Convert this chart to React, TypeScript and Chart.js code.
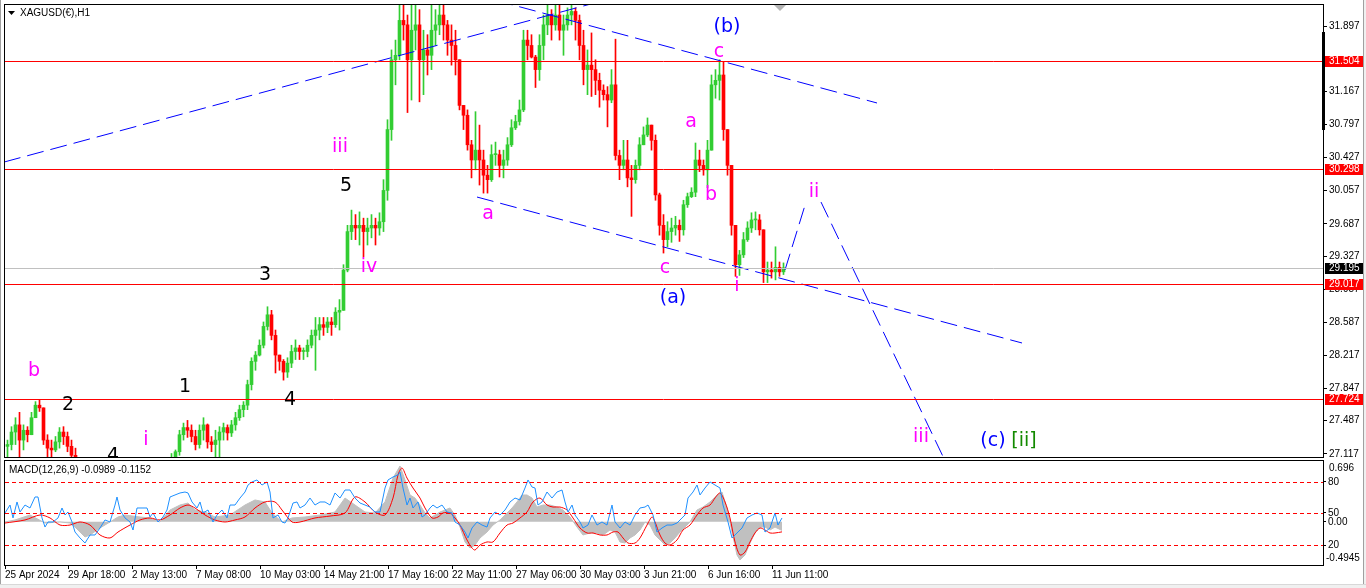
import React, { useEffect, useRef } from "react";
import { Chart, registerables } from "chart.js";
Chart.register(...registerables);

const GREEN = "#32cd32";
const RED = "#ff0000";
const MAGENTA = "#ff00ff";
const BLUE = "#0000ff";
const BLACK = "#000000";
const DKGREEN = "#138a00";
const FONT = "'Liberation Sans', Arial, sans-serif";
const LABEL_FONT = "'DejaVu Sans', Verdana, sans-serif";

// ---------- time axis (1 unit = 1 hourly bar) ----------
const X_MIN = -1;
const X_MAX = 1317;
const HOURS_PER_CANDLE = 4;
const timeTickBars = [-1, 62, 126, 190, 254, 318, 382, 446, 510, 574, 638, 702, 766];
const timeTickLabels = [
  "25 Apr 2024", "29 Apr 18:00", "2 May 13:00", "7 May 08:00", "10 May 03:00", "14 May 21:00",
  "17 May 16:00", "22 May 11:00", "27 May 06:00", "30 May 03:00", "3 Jun 21:00", "6 Jun 16:00", "11 Jun 11:00",
];

// ---------- price data (4-hour candles) ----------
const FIRST_OPEN = 27.2;
const closes = [
  27.22, 27.36, 27.44, 27.27, 27.38, 27.33, 27.52, 27.66, 27.63, 27.27,
  27.18, 27.16, 27.25, 27.36, 27.31, 27.20, 27.10, 27.03, 26.98, 26.95,
  26.92, 26.96, 26.99, 26.94, 26.90, 26.88, 26.92, 26.95, 26.91, 26.87,
  26.85, 26.89, 26.93, 26.97, 26.95, 26.99, 27.02, 26.98, 27.00, 27.03,
  27.01, 27.04, 27.14, 27.33, 27.41, 27.38, 27.31, 27.22, 27.38, 27.44,
  27.25, 27.22, 27.27, 27.36, 27.41, 27.35, 27.44, 27.52, 27.61, 27.66,
  27.89, 28.15, 28.22, 28.33, 28.54, 28.67, 28.44, 28.22, 28.15, 28.03,
  28.13, 28.26, 28.30, 28.26, 28.26, 28.33, 28.44, 28.50, 28.56, 28.53,
  28.59, 28.56, 28.70, 28.72, 29.17, 29.60, 29.67, 29.64, 29.67, 29.60,
  29.64, 29.67, 29.64, 29.71, 30.06, 30.74, 31.52, 31.57, 31.96, 31.91,
  31.52, 31.85, 31.91, 31.52, 31.63, 31.57, 31.85, 31.91, 32.02, 31.91,
  31.74, 31.68, 31.52, 31.01, 30.90, 30.57, 30.40, 30.51, 30.40, 30.23,
  30.18, 30.46, 30.46, 30.34, 30.40, 30.57, 30.76, 30.83, 30.96, 31.74,
  31.68, 31.55, 31.41, 31.68, 31.91, 32.02, 31.91, 32.02, 31.85, 31.91,
  32.02, 32.06, 31.96, 31.68, 31.41, 31.46, 31.41, 31.29, 31.18, 31.13,
  31.07, 31.24, 30.45, 30.34, 30.40, 30.20, 30.18, 30.34, 30.57, 30.68,
  30.79, 30.62, 30.01, 29.67, 29.51, 29.60, 29.64, 29.67, 29.62, 29.90,
  29.99, 30.04, 30.40, 30.34, 30.29, 30.51, 31.24, 31.29, 31.35, 30.74,
  30.34, 29.67, 29.23, 29.34, 29.51, 29.64, 29.73, 29.73, 29.62, 29.15,
  29.17, 29.15, 29.20, 29.15, 29.195,
];
const highs = [
  27.27, 27.42, 27.52, 27.58, 27.44, 27.42, 27.58, 27.70, 27.72, 27.63,
  27.33, 27.27, 27.31, 27.41, 27.42, 27.36, 27.27, 27.18, 27.03, 27.02,
  26.99, 27.01, 27.04, 27.01, 26.96, 26.94, 26.97, 27.00, 26.98, 26.93,
  26.91, 26.94, 26.98, 27.02, 27.01, 27.04, 27.06, 27.05, 27.05, 27.07,
  27.06, 27.12, 27.16, 27.38, 27.46, 27.49, 27.44, 27.38, 27.44, 27.52,
  27.45, 27.31, 27.38, 27.42, 27.46, 27.44, 27.49, 27.58, 27.66, 27.70,
  27.94, 28.19, 28.26, 28.39, 28.59, 28.76, 28.72, 28.50, 28.22, 28.17,
  28.19, 28.33, 28.39, 28.33, 28.30, 28.39, 28.50, 28.64, 28.64, 28.64,
  28.64, 28.64, 28.75, 28.84, 29.23, 29.67, 29.84, 29.79, 29.82, 29.75,
  29.75, 29.79, 29.75, 29.81, 30.18, 30.85, 31.63, 31.74, 32.18, 32.18,
  32.02, 32.18, 32.18, 32.08, 31.85, 31.80, 32.18, 32.08, 32.18, 32.18,
  31.96, 31.91, 31.85, 31.52, 31.01, 30.96, 30.62, 30.94, 30.79, 30.51,
  30.34, 30.57, 30.60, 30.51, 30.51, 30.65, 30.85, 30.90, 31.07, 31.85,
  31.85, 31.80, 31.57, 31.80, 32.02, 32.18, 32.08, 32.18, 32.18, 32.02,
  32.10, 32.18, 32.10, 32.02, 31.85, 31.63, 31.82, 31.52, 31.37, 31.24,
  31.22, 31.41, 31.75, 30.51, 30.62, 30.62, 30.34, 30.40, 30.65, 30.77,
  30.87, 30.79, 30.68, 30.03, 29.79, 29.71, 29.75, 29.77, 29.73, 29.95,
  30.03, 30.09, 30.59, 30.51, 30.40, 30.62, 31.35, 31.41, 31.52, 31.50,
  30.74, 30.34, 29.67, 29.39, 29.59, 29.71, 29.81, 29.82, 29.79, 29.62,
  29.26, 29.26, 29.43, 29.26, 29.25,
];
const lows = [
  27.08, 27.16, 27.22, 27.08, 27.16, 27.25, 27.33, 27.52, 27.59, 27.22,
  27.08, 27.08, 27.14, 27.18, 27.22, 27.14, 27.05, 26.99, 26.93, 26.90,
  26.87, 26.90, 26.93, 26.88, 26.85, 26.82, 26.85, 26.89, 26.85, 26.81,
  26.79, 26.83, 26.87, 26.91, 26.90, 26.93, 26.96, 26.93, 26.95, 26.97,
  26.96, 26.98, 27.03, 27.10, 27.27, 27.30, 27.25, 27.16, 27.18, 27.27,
  27.18, 27.14, 27.05, 27.08, 27.27, 27.27, 27.31, 27.38, 27.49, 27.53,
  27.61, 27.83, 28.05, 28.21, 28.30, 28.50, 28.39, 28.02, 28.05, 27.94,
  27.97, 28.08, 28.17, 28.17, 28.17, 28.20, 28.30, 28.05, 28.39, 28.44,
  28.47, 28.44, 28.53, 28.50, 28.72, 29.15, 29.51, 29.51, 29.45, 29.32,
  29.45, 29.53, 29.45, 29.56, 29.60, 29.95, 30.62, 31.24, 31.52, 31.74,
  30.93, 31.07, 31.63, 31.05, 31.13, 31.35, 31.41, 31.68, 31.80, 31.74,
  31.57, 31.46, 31.35, 30.96, 30.74, 30.51, 30.20, 30.29, 30.12, 30.03,
  30.03, 30.16, 30.34, 30.21, 30.20, 30.34, 30.55, 30.74, 30.79, 30.94,
  31.52, 31.54, 31.21, 31.29, 31.52, 31.80, 31.74, 31.85, 31.74, 31.57,
  31.85, 31.91, 31.74, 31.52, 31.24, 31.13, 31.11, 31.13, 30.99, 31.07,
  30.77, 31.04, 30.40, 30.18, 30.29, 30.10, 29.77, 30.14, 30.29, 30.57,
  30.66, 30.51, 29.95, 29.56, 29.36, 29.43, 29.48, 29.56, 29.49, 29.56,
  29.87, 29.98, 29.99, 30.27, 30.23, 30.09, 30.51, 31.09, 31.07, 30.62,
  30.23, 29.56, 29.10, 29.11, 29.31, 29.49, 29.59, 29.62, 29.56, 29.03,
  29.03, 29.08, 29.06, 29.10, 29.12,
];

// ---------- price axis ----------
const PRICE_MIN = 27.081;
const PRICE_MAX = 32.132;
const priceTicks = [31.897, 31.167, 30.797, 30.427, 30.057, 29.687, 29.327, 28.957, 28.587, 28.217, 27.847, 27.487, 27.117];
const levelPrices = [31.504, 30.298, 29.017, 27.724];
const bidPrice = 29.195;

// ---------- trend lines (bar, price) ----------
const trendLineBars = [[-2, 600], [490, 871], [471, 1016], [779, 800], [815, 954]];
const trendLinePrices = [[30.377, 32.189], [32.183, 31.037], [29.986, 28.355], [29.171, 29.93], [29.93, 26.69]];

// ---------- wave labels ----------
const waveTexts = ["b", "2", "1", "4", "i", "3", "4", "iii", "5", "iv", "a", "(b)", "c", "a", "b", "c", "(a)", "i", "ii", "iii", "(c)", "[ii]"];
const waveBars = [28, 62, 179, 107, 140, 259, 284, 334, 340, 363, 482, 721, 713, 685, 705, 659, 667, 731, 808, 915, 987, 1018];
const wavePrices = [28.042, 27.662, 27.864, 27.09, 27.271, 29.115, 27.718, 30.545, 30.109, 29.204, 29.796, 31.886, 31.607, 30.824, 30.009, 29.193, 28.858, 28.992, 30.042, 27.305, 27.26, 27.26];
const waveColors = [MAGENTA, BLACK, BLACK, BLACK, MAGENTA, BLACK, BLACK, MAGENTA, BLACK, MAGENTA, MAGENTA, BLUE, MAGENTA, MAGENTA, MAGENTA, MAGENTA, BLUE, MAGENTA, MAGENTA, MAGENTA, BLUE, DKGREEN];

// ---------- MACD panel ----------
const MACD_MIN = -0.4945;
const MACD_MAX = 0.696;
const macdTickValues = [0.456, 0.101, 0, -0.266];
const macdTickLabels = ["80", "50", "0.00", "20"];
const macdLevelValues = [0.456, 0.101, -0.266];

const macdBlueBars = [
  -1, 4, 7, 11, 14, 19, 24, 29, 32, 36,
  39, 42, 47, 52, 56, 59, 62, 66, 69, 74,
  79, 84, 89, 94, 99, 104, 109, 111, 114, 119,
  124, 127, 131, 136, 141, 144, 147, 152, 157, 161,
  164, 169, 174, 179, 182, 186, 191, 194, 197, 202,
  207, 211, 216, 221, 224, 229, 234, 239, 242, 246,
  251, 256, 261, 264, 267, 272, 276, 279, 282, 287,
  291, 294, 299, 304, 309, 314, 319, 324, 329, 334,
  339, 344, 349, 354, 359, 364, 369, 374, 379, 382,
  387, 392, 394, 397, 401, 404, 407, 412, 416, 419,
  424, 427, 431, 436, 441, 446, 449, 454, 459, 462,
  466, 471, 476, 481, 484, 489, 494, 499, 504, 509,
  514, 519, 522, 526, 529, 532, 536, 541, 546, 551,
  556, 559, 562, 566, 569, 574, 577, 582, 586, 591,
  596, 601, 606, 609, 614, 619, 624, 629, 634, 639,
  642, 647, 651, 656, 661, 666, 671, 676, 679, 682,
  687, 691, 694, 699, 704, 709, 714, 717, 722, 726,
  731, 736, 741, 746, 751, 756, 759, 764, 769, 772,
  776,
];
const macdBlueValues = [
  0.101, 0.192, 0.044, 0.227, 0.112, 0.192, 0.158, 0.284, 0.284, 0.044,
  -0.060, -0.002, -0.002, 0.044, 0.158, 0.078, 0.112, -0.002, -0.117, -0.185,
  -0.243, -0.151, -0.151, -0.071, 0.021, -0.002, 0.192, 0.284, 0.135, 0.044,
  -0.002, -0.094, 0.158, 0.158, 0.158, 0.055, 0.101, -0.002, 0.055, 0.135,
  0.284, 0.307, 0.330, 0.341, 0.330, 0.227, 0.158, 0.227, 0.101, 0.135,
  -0.002, 0.078, 0.135, 0.044, 0.192, 0.192, 0.272, 0.341, 0.421, 0.456,
  0.479, 0.421, 0.456, 0.341, 0.044, 0.078, -0.002, -0.014, 0.044, 0.215,
  0.227, 0.158, 0.192, 0.272, 0.192, 0.227, 0.227, 0.192, 0.330, 0.272,
  0.364, 0.364, 0.272, 0.215, 0.192, 0.169, 0.112, 0.112, 0.387, 0.479,
  0.513, 0.536, 0.570, 0.387, 0.192, 0.272, 0.158, 0.227, 0.055, 0.078,
  0.158, 0.192, 0.158, 0.192, 0.112, 0.101, -0.002, -0.037, -0.117, -0.185,
  -0.071, -0.002, -0.037, -0.060, 0.044, 0.112, 0.078, 0.135, 0.227, 0.272,
  0.250, 0.387, 0.479, 0.398, 0.387, 0.192, 0.227, 0.341, 0.272, 0.341,
  0.364, 0.227, 0.112, 0.192, 0.078, -0.002, -0.071, -0.037, 0.078, -0.037,
  -0.002, -0.037, 0.192, -0.002, -0.071, -0.002, -0.037, 0.078, 0.158, 0.169,
  0.192, 0.078, -0.117, -0.071, -0.037, -0.037, -0.014, 0.044, 0.078, 0.272,
  0.341, 0.421, 0.307, 0.387, 0.456, 0.421, 0.387, 0.192, -0.002, -0.185,
  -0.128, -0.071, 0.044, 0.078, 0.101, 0.078, -0.117, -0.071, 0.101, -0.037,
  0.044,
];
const macdSignalBars = [
  -1, 19, 34, 44, 54, 64, 74, 84, 94, 104,
  112, 124, 134, 144, 154, 164, 174, 182, 189, 199,
  209, 219, 229, 239, 249, 259, 269, 276, 286, 294,
  309, 324, 339, 349, 359, 369, 379, 387, 392, 396,
  401, 407, 414, 419, 426, 432, 437, 444, 449, 454,
  461, 466, 469, 474, 481, 487, 494, 501, 507, 514,
  521, 527, 534, 541, 547, 554, 561, 567, 574, 581,
  587, 594, 601, 607, 612, 617, 622, 629, 634, 641,
  646, 649, 654, 659, 664, 671, 677, 684, 691, 697,
  704, 709, 714, 719, 724, 729, 734, 739, 744, 749,
  754, 759, 764, 769, 776,
];
const macdSignalValues = [
  -0.014, 0.021, 0.078, 0.044, -0.037, -0.037, -0.002, -0.037, -0.151, -0.185,
  -0.117, -0.037, 0.021, 0.044, 0.021, 0.078, 0.158, 0.192, 0.158, 0.078,
  0.021, -0.002, 0.021, 0.055, 0.158, 0.227, 0.227, 0.135, -0.002, -0.002,
  0.044, 0.066, 0.101, 0.284, 0.227, 0.112, 0.078, 0.272, 0.536, 0.616,
  0.501, 0.387, 0.272, 0.158, 0.044, 0.055, 0.101, 0.101, 0.044, -0.037,
  -0.208, -0.300, -0.323, -0.266, -0.231, -0.231, -0.128, -0.037, -0.014, 0.044,
  0.112, 0.227, 0.272, 0.192, 0.169, 0.169, 0.135, 0.044, -0.071, -0.128,
  -0.128, -0.151, -0.151, -0.117, -0.117, -0.185, -0.243, -0.243, -0.185, -0.037,
  0.055, -0.002, -0.151, -0.243, -0.266, -0.208, -0.094, -0.037, 0.078, 0.158,
  0.192, 0.272, 0.330, 0.227, 0.044, -0.231, -0.380, -0.346, -0.231, -0.128,
  -0.071, -0.094, -0.128, -0.128, -0.1152,
];
const macdHistBars = [
  -1, 9, 24, 39, 54, 64, 69, 79, 84, 94,
  104, 112, 119, 134, 144, 154, 164, 174, 182, 189,
  199, 209, 224, 239, 249, 259, 266, 276, 286, 299,
  314, 329, 339, 349, 359, 369, 379, 387, 394, 399,
  404, 409, 414, 419, 424, 434, 444, 449, 454, 459,
  464, 469, 474, 481, 487, 494, 501, 506, 511, 516,
  521, 526, 531, 537, 544, 551, 557, 564, 571, 577,
  584, 591, 597, 604, 609, 614, 619, 624, 629, 634,
  639, 644, 649, 654, 659, 664, 669, 674, 684, 691,
  697, 704, 711, 716, 721, 726, 731, 734, 739, 744,
  749, 754, 759, 764, 769, 776,
];
const macdHistValues = [
  -0.002, 0.021, 0.078, -0.014, -0.002, -0.014, -0.060, -0.174, -0.151, -0.071,
  -0.002, 0.055, 0.078, 0.055, 0.044, -0.002, 0.135, 0.192, 0.215, 0.135,
  0.112, 0.055, 0.078, 0.192, 0.250, 0.227, 0.101, -0.002, 0.044, 0.055,
  0.078, 0.112, 0.272, 0.192, 0.112, 0.101, 0.227, 0.501, 0.639, 0.479,
  0.307, 0.272, 0.192, 0.101, 0.044, 0.112, 0.158, 0.078, -0.060, -0.231,
  -0.300, -0.266, -0.185, -0.117, -0.037, 0.021, 0.101, 0.158, 0.227, 0.307,
  0.307, 0.272, 0.169, 0.192, 0.192, 0.169, 0.135, 0.055, -0.060, -0.151,
  -0.128, -0.128, -0.151, -0.094, -0.117, -0.231, -0.243, -0.185, -0.151, -0.094,
  -0.002, -0.037, -0.151, -0.208, -0.266, -0.243, -0.185, -0.117, -0.002, 0.135,
  0.169, 0.227, 0.307, 0.341, 0.158, -0.117, -0.380, -0.437, -0.380, -0.243,
  -0.128, -0.060, -0.060, -0.094, -0.060, -0.0989,
];

// ---------- helpers ----------
const crisp = (v: number) => Math.round(v) + 0.5;

function PriceChart() {
  const ref = useRef<HTMLCanvasElement | null>(null);
  useEffect(() => {
    if (!ref.current) return;
    const candleBars = closes.map((_, k) => k * HOURS_PER_CANDLE + 1.5);
    const opens = closes.map((_, k) => (k === 0 ? FIRST_OPEN : closes[k - 1]));
    const colors = closes.map((c, k) => (c >= opens[k] ? GREEN : RED));

    const decor = {
      id: "priceDecor",
      afterDatasetsDraw(chart: any) {
        const { ctx, chartArea: a, scales } = chart;
        const y = scales.y;
        const x = scales.x;
        ctx.save();
        ctx.beginPath();
        ctx.rect(a.left, a.top, a.right - a.left, a.bottom - a.top);
        ctx.clip();
        ctx.lineWidth = 1;
        const hline = (v: number, color: string) => {
          const py = crisp(y.getPixelForValue(v));
          ctx.strokeStyle = color;
          ctx.beginPath();
          ctx.moveTo(a.left - 1, py);
          ctx.lineTo(a.right, py);
          ctx.stroke();
        };
        hline(bidPrice, "#c0c0c0");
        levelPrices.forEach((v) => hline(v, RED));
        // wave labels
        ctx.font = `19px ${LABEL_FONT}`;
        ctx.textAlign = "center";
        ctx.textBaseline = "middle";
        waveTexts.forEach((t, i) => {
          ctx.fillStyle = waveColors[i];
          ctx.fillText(t, x.getPixelForValue(waveBars[i]), y.getPixelForValue(wavePrices[i]));
        });
        ctx.restore();
      },
      afterDraw(chart: any) {
        const { ctx, chartArea: a, scales } = chart;
        const y = scales.y;
        ctx.save();
        // frame
        ctx.strokeStyle = "#000";
        ctx.lineWidth = 1;
        ctx.strokeRect(a.left - 0.5, a.top - 0.5, a.right - a.left + 1, a.bottom - a.top + 1);
        // scroll marker on the axis
        ctx.fillStyle = "#000";
        ctx.fillRect(a.right - 1, 32, 3, 98);
        // chart-shift triangle
        ctx.fillStyle = "#b4b4b4";
        ctx.beginPath();
        ctx.moveTo(774, a.top);
        ctx.lineTo(786, a.top);
        ctx.lineTo(780, a.top + 6);
        ctx.closePath();
        ctx.fill();
        // title
        ctx.fillStyle = "#000";
        ctx.beginPath();
        ctx.moveTo(8, 11);
        ctx.lineTo(15, 11);
        ctx.lineTo(11.5, 15);
        ctx.closePath();
        ctx.fill();
        ctx.font = `10px ${FONT}`;
        ctx.textAlign = "left";
        ctx.textBaseline = "middle";
        ctx.fillText("XAGUSD(€),H1", 20, 13);
        // price boxes
        const box = (v: number, bg: string) => {
          const py = Math.round(y.getPixelForValue(v));
          ctx.fillStyle = bg;
          ctx.fillRect(a.right + 2, py - 5, 38, 11);
          ctx.fillStyle = "#fff";
          ctx.fillText(v.toFixed(3), a.right + 6, py + 0.5);
        };
        levelPrices.forEach((v) => box(v, RED));
        box(bidPrice, "#000");
        ctx.restore();
      },
    };

    const datasets: any[] = [
      {
        type: "bar",
        data: candleBars.map((b, k) => ({ x: b, y: [lows[k], highs[k]] })),
        backgroundColor: colors,
        barThickness: 1,
        grouped: false,
        borderWidth: 0,
        order: 3,
      },
      {
        type: "bar",
        data: candleBars.map((b, k) => ({ x: b, y: [opens[k], closes[k]] })),
        backgroundColor: colors,
        barThickness: 3,
        minBarLength: 1,
        grouped: false,
        borderWidth: 0,
        order: 2,
      },
      ...trendLineBars.map((bars, i) => ({
        type: "line",
        data: bars.map((b, j) => ({ x: b, y: trendLinePrices[i][j] })),
        borderColor: BLUE,
        borderWidth: 1,
        borderDash: [17, 7],
        pointRadius: 0,
        fill: false,
        tension: 0,
        order: 0,
      })),
    ];

    const chart = new Chart(ref.current, {
      type: "bar",
      data: { datasets },
      options: {
        responsive: false,
        animation: false,
        devicePixelRatio: 1,
        events: [],
        layout: { padding: { left: 5, top: 5, right: 0, bottom: 2 } },
        plugins: { legend: { display: false }, tooltip: { enabled: false }, title: { display: false } },
        scales: {
          x: { type: "linear", min: X_MIN, max: X_MAX, display: false, offset: false },
          y: {
            type: "linear",
            position: "right",
            min: PRICE_MIN,
            max: PRICE_MAX,
            afterBuildTicks: (s: any) => {
              s.ticks = priceTicks.map((v) => ({ value: v }));
            },
            afterFit: (s: any) => {
              s.width = 43;
              s.paddingTop = 0;
              s.paddingBottom = 0;
            },
            ticks: {
              autoSkip: false,
              padding: 2,
              color: "#000",
              font: { family: FONT, size: 10 },
              callback: (v: any) => Number(v).toFixed(3),
            },
            grid: { drawOnChartArea: false, drawTicks: true, tickLength: 4, color: "#000" },
            border: { display: false },
          },
        },
      } as any,
      plugins: [decor],
    });
    return () => chart.destroy();
  }, []);
  return <canvas ref={ref} width={1366} height={459} style={{ position: "absolute", left: 0, top: 0, width: 1366, height: 459 }} />;
}

function MacdChart() {
  const ref = useRef<HTMLCanvasElement | null>(null);
  useEffect(() => {
    if (!ref.current) return;
    const decor = {
      id: "macdDecor",
      afterDatasetsDraw(chart: any) {
        const { ctx, chartArea: a, scales } = chart;
        const y = scales.y;
        ctx.save();
        ctx.strokeStyle = RED;
        ctx.lineWidth = 1;
        ctx.setLineDash([4, 3]);
        macdLevelValues.forEach((v) => {
          const py = crisp(y.getPixelForValue(v));
          ctx.beginPath();
          ctx.moveTo(a.left, py);
          ctx.lineTo(a.right, py);
          ctx.stroke();
        });
        ctx.restore();
      },
      afterDraw(chart: any) {
        const { ctx, chartArea: a, scales } = chart;
        const y = scales.y;
        ctx.save();
        ctx.strokeStyle = "#000";
        ctx.lineWidth = 1;
        ctx.strokeRect(a.left - 0.5, a.top - 0.5, a.right - a.left + 1, a.bottom - a.top + 1);
        ctx.fillStyle = "#000";
        ctx.font = `10px ${FONT}`;
        ctx.textAlign = "left";
        ctx.textBaseline = "middle";
        ctx.fillText("MACD(12,26,9) -0.0989 -0.1152", 9, a.top + 9);
        ctx.fillText(MACD_MAX.toFixed(3), a.right + 6, y.getPixelForValue(MACD_MAX) + 7);
        ctx.fillText(MACD_MIN.toFixed(4), a.right + 3, y.getPixelForValue(MACD_MIN) - 7);
        ctx.restore();
      },
    };
    const chart = new Chart(ref.current, {
      type: "line",
      data: {
        datasets: [
          {
            data: macdBlueBars.map((b, i) => ({ x: b, y: macdBlueValues[i] })),
            borderColor: "#1e90ff",
            borderWidth: 1,
            pointRadius: 0,
            tension: 0,
            fill: false,
            order: 0,
          },
          {
            data: macdSignalBars.map((b, i) => ({ x: b, y: macdSignalValues[i] })),
            borderColor: RED,
            borderWidth: 1,
            pointRadius: 0,
            tension: 0.3,
            fill: false,
            order: 1,
          },
          {
            data: macdHistBars.map((b, i) => ({ x: b, y: macdHistValues[i] })),
            borderColor: "#c0c0c0",
            backgroundColor: "#c0c0c0",
            borderWidth: 1,
            pointRadius: 0,
            tension: 0,
            fill: "origin",
            order: 2,
          },
        ],
      },
      options: {
        responsive: false,
        animation: false,
        devicePixelRatio: 1,
        events: [],
        layout: { padding: { left: 5, top: 2, right: 0, bottom: 0 } },
        plugins: { legend: { display: false }, tooltip: { enabled: false }, title: { display: false } },
        scales: {
          x: {
            type: "linear",
            position: "bottom",
            min: X_MIN,
            max: X_MAX,
            offset: false,
            afterBuildTicks: (s: any) => {
              s.ticks = timeTickBars.map((v) => ({ value: v }));
            },
            afterFit: (s: any) => {
              s.height = 23;
              s.paddingLeft = 0;
              s.paddingRight = 0;
            },
            ticks: {
              autoSkip: false,
              maxRotation: 0,
              minRotation: 0,
              align: "start",
              padding: 0,
              color: "#000",
              font: { family: FONT, size: 10 },
              callback: (_v: any, i: number) => timeTickLabels[i],
            },
            grid: { drawOnChartArea: false, drawTicks: true, tickLength: 4, color: "#000" },
            border: { display: false },
          },
          y: {
            type: "linear",
            position: "right",
            min: MACD_MIN,
            max: MACD_MAX,
            afterBuildTicks: (s: any) => {
              s.ticks = macdTickValues.map((v) => ({ value: v }));
            },
            afterFit: (s: any) => {
              s.width = 43;
              s.paddingTop = 0;
              s.paddingBottom = 0;
            },
            ticks: {
              autoSkip: false,
              padding: 2,
              color: "#000",
              font: { family: FONT, size: 10 },
              callback: (_v: any, i: number) => macdTickLabels[i],
            },
            grid: { drawOnChartArea: false, drawTicks: true, tickLength: 3, color: "#000" },
            border: { display: false },
          },
        },
      } as any,
      plugins: [decor],
    });
    return () => chart.destroy();
  }, []);
  return <canvas ref={ref} width={1366} height={129} style={{ position: "absolute", left: 0, top: 459, width: 1366, height: 129 }} />;
}

export default function App() {
  return (
    <div style={{ position: "fixed", left: 0, top: 0, width: 1366, height: 588, background: "#ffffff", overflow: "hidden" }}>
      <PriceChart />
      <MacdChart />
      <div style={{ position: "absolute", left: 0, top: 0, width: 1, height: 588, background: "#a0a0a0" }} />
      <div style={{ position: "absolute", left: 1363, top: 0, width: 3, height: 588, background: "#f0f0f0", borderLeft: "1px solid #a0a0a0", boxSizing: "border-box" }} />
      <div style={{ position: "absolute", left: 0, top: 584, width: 1366, height: 4, background: "#f0f0f0", borderTop: "1px solid #d8d8d8", boxSizing: "border-box" }} />
    </div>
  );
}
